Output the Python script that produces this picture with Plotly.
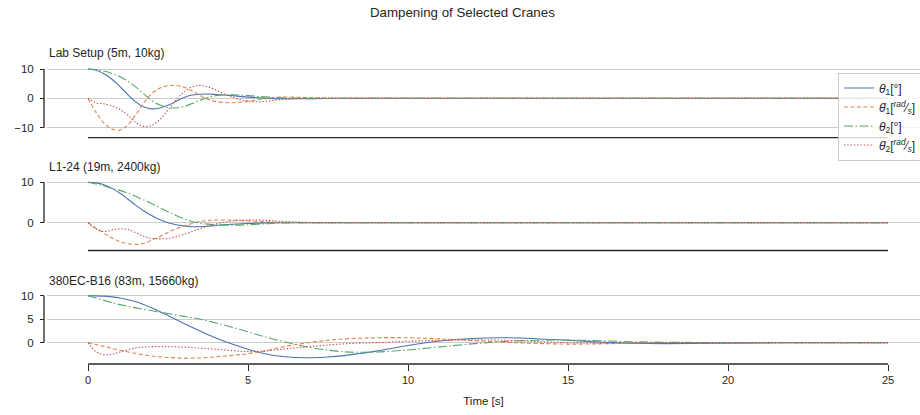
import plotly.graph_objects as go

# ---------------------------------------------------------------- data
# Lab setup (5m, 10kg)
T_LAB = [0, 0.25, 0.5, 0.75, 1.0, 1.25, 1.5, 1.75, 2.0, 2.25, 2.5, 2.75, 3.0,
         3.25, 3.5, 3.75, 4.0, 4.5, 5.0, 5.5, 6.0, 7.0, 8.0, 10, 15, 20, 25]
LAB_THETA1 = [10, 9.6, 8.4, 6.5, 4.0, 1.2, -1.3, -3.0, -3.6, -3.3, -2.4, -1.0, 0.3,
              1.1, 1.4, 1.45, 1.3, 0.9, 0.4, 0.05, -0.15, -0.1, 0, 0, 0, 0, 0]
LAB_DTHETA1 = [0, -4.8, -8.5, -10.5, -10.8, -9.0, -5.5, -1.5, 1.7, 3.5, 4.3, 4.4, 3.8,
               2.5, 1.0, -0.3, -1.1, -1.5, -1.0, -0.2, 0.4, 0.2, 0, 0, 0, 0, 0]
LAB_THETA2 = [10, 9.8, 9.3, 8.5, 7.4, 5.8, 3.8, 1.4, -0.8, -2.3, -3.2, -3.3, -2.8,
              -1.8, -0.7, 0.3, 0.9, 1.2, 0.9, 0.5, 0.2, -0.1, 0, 0, 0, 0, 0]
LAB_DTHETA2 = [0, -1.5, -1.9, -2.6, -3.8, -5.8, -8.3, -9.6, -9.2, -7.2, -4.0, -0.6, 2.2,
               3.9, 4.4, 3.9, 2.8, 0.4, -1.0, -1.1, -0.5, 0.1, 0, 0, 0, 0, 0]

# L1-24 (19m, 2400kg)
T_L124 = T_LAB
L124_THETA1 = [10, 9.85, 9.4, 8.5, 7.3, 5.8, 4.3, 2.9, 1.7, 0.7, 0.0, -0.5, -0.8,
               -1.0, -1.0, -0.9, -0.7, -0.4, -0.2, -0.05, 0, 0, 0, 0, 0, 0, 0]
L124_DTHETA1 = [0, -1.3, -2.6, -3.8, -4.7, -5.2, -5.4, -5.1, -4.3, -3.4, -2.4, -1.5, -0.8,
                -0.2, 0.3, 0.55, 0.65, 0.65, 0.45, 0.25, 0.1, 0, 0, 0, 0, 0, 0]
L124_THETA2 = [10, 9.6, 9.1, 8.5, 8.0, 7.3, 6.5, 5.6, 4.7, 3.7, 2.7, 1.8, 1.0,
               0.3, -0.1, -0.35, -0.5, -0.6, -0.5, -0.3, -0.1, 0, 0, 0, 0, 0, 0]
L124_DTHETA2 = [0, -1.6, -2.2, -1.8, -1.5, -1.7, -2.5, -3.4, -3.9, -4.0, -3.9, -3.5, -2.9,
                -2.2, -1.5, -0.8, -0.3, 0.4, 0.65, 0.6, 0.35, 0.05, 0, 0, 0, 0, 0]

# 380EC-B16 (83m, 15660kg)
T_380 = [0, 0.25, 0.5, 0.75, 1.0, 1.5, 2.0, 2.5, 3.0, 3.5, 4.0, 4.5, 5.0, 5.5, 6.0,
         6.5, 7.0, 7.5, 8.0, 8.5, 9.0, 10, 11, 12, 13, 14, 15, 16, 17, 18, 20, 22.5, 25]
C380_THETA1 = [10, 9.97, 9.9, 9.75, 9.5, 8.7, 7.4, 5.8, 4.1, 2.5, 1.0, -0.3, -1.4, -2.3, -2.9,
               -3.15, -3.2, -3.05, -2.75, -2.3, -1.8, -0.6, 0.35, 0.9, 1.05, 0.85, 0.5, 0.15,
               -0.1, -0.2, -0.1, 0, 0]
C380_DTHETA1 = [0, -0.4, -0.8, -1.2, -1.6, -2.3, -2.85, -3.15, -3.3, -3.25, -3.0, -2.7, -2.35,
                -1.8, -1.0, -0.4, 0.1, 0.5, 0.8, 0.95, 1.05, 1.05, 0.8, 0.45, 0.1, -0.15,
                -0.3, -0.25, -0.1, 0, 0, 0, 0]
C380_THETA2 = [10, 9.5, 9.0, 8.5, 8.1, 7.4, 6.8, 6.2, 5.6, 5.0, 4.2, 3.3, 2.3, 1.3, 0.4,
               -0.4, -1.1, -1.6, -1.95, -2.05, -2.0, -1.55, -0.9, -0.25, 0.25, 0.5, 0.55,
               0.4, 0.2, 0.1, 0, 0, 0]
C380_DTHETA2 = [0, -1.9, -2.6, -2.45, -2.0, -1.1, -0.85, -0.85, -0.95, -1.15, -1.4, -1.7,
                -1.9, -1.8, -1.45, -1.1, -0.8, -0.5, -0.25, -0.1, 0.0, 0.3, 0.5, 0.6, 0.5,
                0.25, 0.0, -0.1, -0.1, 0, 0, 0, 0]

PANEL_TITLES = ["Lab Setup (5m, 10kg)", "L1-24 (19m, 2400kg)", "380EC-B16 (83m, 15660kg)"]
PANEL_TIMES = [T_LAB, T_L124, T_380]
PANEL_SERIES = [
    [LAB_THETA1, LAB_DTHETA1, LAB_THETA2, LAB_DTHETA2],
    [L124_THETA1, L124_DTHETA1, L124_THETA2, L124_DTHETA2],
    [C380_THETA1, C380_DTHETA1, C380_THETA2, C380_DTHETA2],
]
PANEL_YTICKS = [[-10, 0, 10], [0, 10], [0, 5, 10]]
X_TICKS = [0, 5, 10, 15, 20, 25]

SERIES_NAMES = [
    "<i>θ</i><sub>1</sub>[°]",
    "<i>θ̇</i><sub>1</sub>[<sup><i>rad</i></sup>⁄<sub><i>s</i></sub>]",
    "<i>θ</i><sub>2</sub>[°]",
    "<i>θ̇</i><sub>2</sub>[<sup><i>rad</i></sup>⁄<sub><i>s</i></sub>]",
]

# ---------------------------------------------------------------- styling
W, H = 920, 415
FONT = "Liberation Sans, Arial, Helvetica, sans-serif"
INK = "#262626"
GRID = "#cccccc"
COLORS = ["#4C72B0", "#DD8452", "#55A868", "#C44E52"]
DASHES = ["solid", "4px,2.5px", "9px,2.5px,1.5px,2.5px", "1.4px,1.9px"]
LINE_W = 1.1

X_DOMAIN = [47 / W, 1.0]
X_RANGE = [-41 / 32, -41 / 32 + 873 / 32]
Y_RANGES = [[-12.37, 11.07], [-6.22, 10.77], [-3.86, 10.66]]
Y_DOMAINS = [[1 - 134.5 / H, 1 - 65.9 / H],
             [1 - 247.8 / H, 1 - 179.2 / H],
             [1 - 360.8 / H, 1 - 292.6 / H]]
X_SPINE_POS = [1 - 137.7 / H, 1 - 250.5 / H, 1 - 364.0 / H]
Y_SPINE_POS = 44 / W
TITLE_Y = [1 - 53.5 / H, 1 - 167.0 / H, 1 - 280.5 / H]

fig = go.Figure()
shapes = []
annotations = []

for p in range(3):
    xa = "x" if p == 0 else f"x{p + 1}"
    ya = "y" if p == 0 else f"y{p + 1}"
    for s in range(4):
        fig.add_trace(go.Scatter(
            x=PANEL_TIMES[p], y=PANEL_SERIES[p][s],
            xaxis=xa, yaxis=ya, mode="lines",
            line=dict(color=COLORS[s], width=LINE_W, dash=DASHES[s],
                      shape="spline", smoothing=1.0),
            name=SERIES_NAMES[s], legendgroup=str(s), showlegend=(p == 0),
        ))

    last = p == 2
    xkey = "xaxis" if p == 0 else f"xaxis{p + 1}"
    ykey = "yaxis" if p == 0 else f"yaxis{p + 1}"
    fig.layout[xkey] = dict(
        domain=X_DOMAIN, range=X_RANGE, anchor="free", position=X_SPINE_POS[p],
        showgrid=False, zeroline=False, showline=False,
        tickvals=X_TICKS if last else [], ticks="outside" if last else "",
        ticklen=6, tickwidth=1.2, tickcolor=INK,
        showticklabels=last, tickfont=dict(family=FONT, size=11, color=INK),
        title=dict(text="Time [s]" if last else "",
                   font=dict(family=FONT, size=11.5, color=INK), standoff=11),
    )
    fig.layout[ykey] = dict(
        domain=Y_DOMAINS[p], range=Y_RANGES[p], anchor="free", position=Y_SPINE_POS,
        showgrid=True, gridcolor=GRID, gridwidth=1, zeroline=False, showline=False,
        tickvals=PANEL_YTICKS[p], ticks="outside", ticklen=4, tickwidth=1.2,
        tickcolor=INK, tickfont=dict(family=FONT, size=11.5, color=INK),
        ticklabelstandoff=4,
    )

    # trimmed spines: bottom spans the time range, left spans the tick range
    shapes.append(dict(type="line", xref=xa, yref="paper",
                       x0=min(X_TICKS), x1=max(X_TICKS),
                       y0=X_SPINE_POS[p], y1=X_SPINE_POS[p],
                       line=dict(color=INK, width=1.3)))
    shapes.append(dict(type="line", xref="paper", yref=ya,
                       x0=Y_SPINE_POS, x1=Y_SPINE_POS,
                       y0=min(PANEL_YTICKS[p]), y1=max(PANEL_YTICKS[p]),
                       line=dict(color=INK, width=1.3)))

    annotations.append(dict(text=PANEL_TITLES[p], xref="paper", yref="paper",
                            x=X_DOMAIN[0], y=TITLE_Y[p], xanchor="left", yanchor="middle",
                            showarrow=False, font=dict(family=FONT, size=12, color=INK)))

annotations.append(dict(text="Dampening of Selected Cranes", xref="paper", yref="paper",
                        x=462 / W, y=1 - 13 / H, xanchor="center", yanchor="middle",
                        showarrow=False, font=dict(family=FONT, size=13.3, color=INK)))

fig.update_layout(
    width=W, height=H,
    margin=dict(l=0, r=0, t=0, b=0, autoexpand=False),
    paper_bgcolor="white", plot_bgcolor="white",
    font=dict(family=FONT, color=INK),
    shapes=shapes, annotations=annotations,
    legend=dict(x=838 / W, y=1 - 72.5 / H, xanchor="left", yanchor="top",
                bgcolor="rgba(255,255,255,0.8)", bordercolor=GRID, borderwidth=1,
                font=dict(family=FONT, size=12, color=INK),
                tracegroupgap=0, itemwidth=30),
)

fig.write_html("out.html")
